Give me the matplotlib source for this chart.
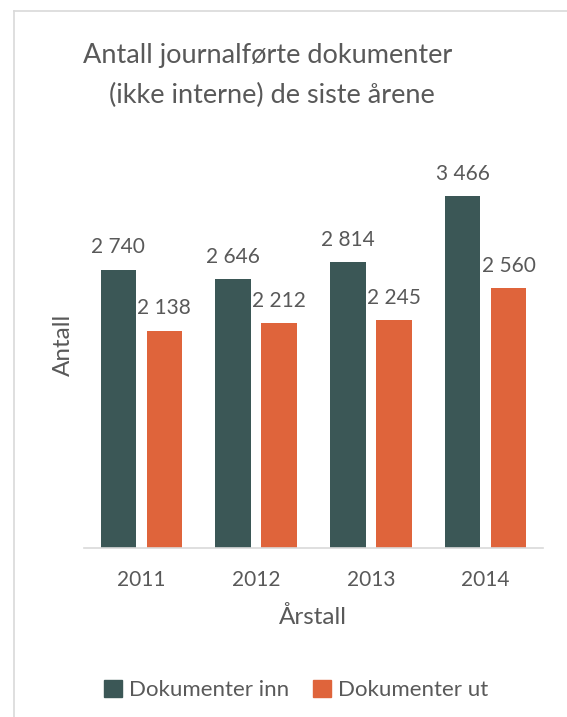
import matplotlib
matplotlib.use('Agg')
import matplotlib.pyplot as plt
from matplotlib.lines import Line2D
from matplotlib.patches import Patch
import numpy as np

plt.rcParams['font.family'] = ['Lato', 'DejaVu Sans']

# data
years = ['2011', '2012', '2013', '2014']
dok_inn = [2740, 2646, 2814, 3466]
dok_ut = [2138, 2212, 2245, 2560]
series_names = ['Dokumenter inn', 'Dokumenter ut']

c_inn = '#3B5756'
c_ut = '#DF643B'
txt = '#595959'

W, H = 567, 717
fig = plt.figure(figsize=(W / 100, H / 100), dpi=100)

def fx(px):
    return px / W

def fy(py):
    return 1 - py / H

# chart area border (left and top only visible)
fig.add_artist(Line2D([fx(13.5), fx(13.5)], [fy(11), 0], color='#D9D9D9', lw=1.2))
fig.add_artist(Line2D([fx(13.5), 1], [fy(11), fy(11)], color='#D9D9D9', lw=1.2))

ax = fig.add_axes([fx(84), fy(548), fx(543) - fx(84), fy(142) - fy(548)])
x = np.arange(len(years))
w = 0.31
b1 = ax.bar(x - 0.2, dok_inn, w, color=c_inn, label=series_names[0])
b2 = ax.bar(x + 0.2, dok_ut, w, color=c_ut, label=series_names[1])

fmt = lambda v: '{:,}'.format(int(v)).replace(',', ' ')
for bars, vals in [(b1, dok_inn), (b2, dok_ut)]:
    ax.bar_label(bars, labels=[fmt(v) for v in vals], padding=9, fontsize=15, color=txt)

ax.set_xlim(-0.5, 3.5)
ax.set_ylim(0, 4000)
ax.set_xticks(x)
ax.set_xticklabels(years, fontsize=15, color=txt)
ax.tick_params(axis='x', length=0, pad=16)
ax.set_yticks([])
for s in ['top', 'right', 'left']:
    ax.spines[s].set_visible(False)
ax.spines['bottom'].set_color('#D9D9D9')
ax.spines['bottom'].set_linewidth(1.2)

fig.text(fx(63), fy(345), 'Antall', rotation=90, ha='center', va='center', fontsize=17.5, color=txt)
fig.text(fx(313), fy(617), 'Årstall', ha='center', va='center', fontsize=17.5, color=txt)

fig.text(fx(268), fy(63), 'Antall journalførte dokumenter', ha='center', va='baseline', fontsize=19.5, color=txt)
fig.text(fx(272), fy(103), '(ikke interne) de siste årene', ha='center', va='baseline', fontsize=19.5, color=txt)

handles = [Patch(color=c_inn), Patch(color=c_ut)]
fig.legend(handles, series_names, loc='center', bbox_to_anchor=(fx(296), fy(690)), ncol=2,
           frameon=False, fontsize=16, labelcolor=txt, handlelength=0.8, handleheight=0.8,
           handletextpad=0.3, columnspacing=1.1)

plt.savefig('out.png', dpi=100)
